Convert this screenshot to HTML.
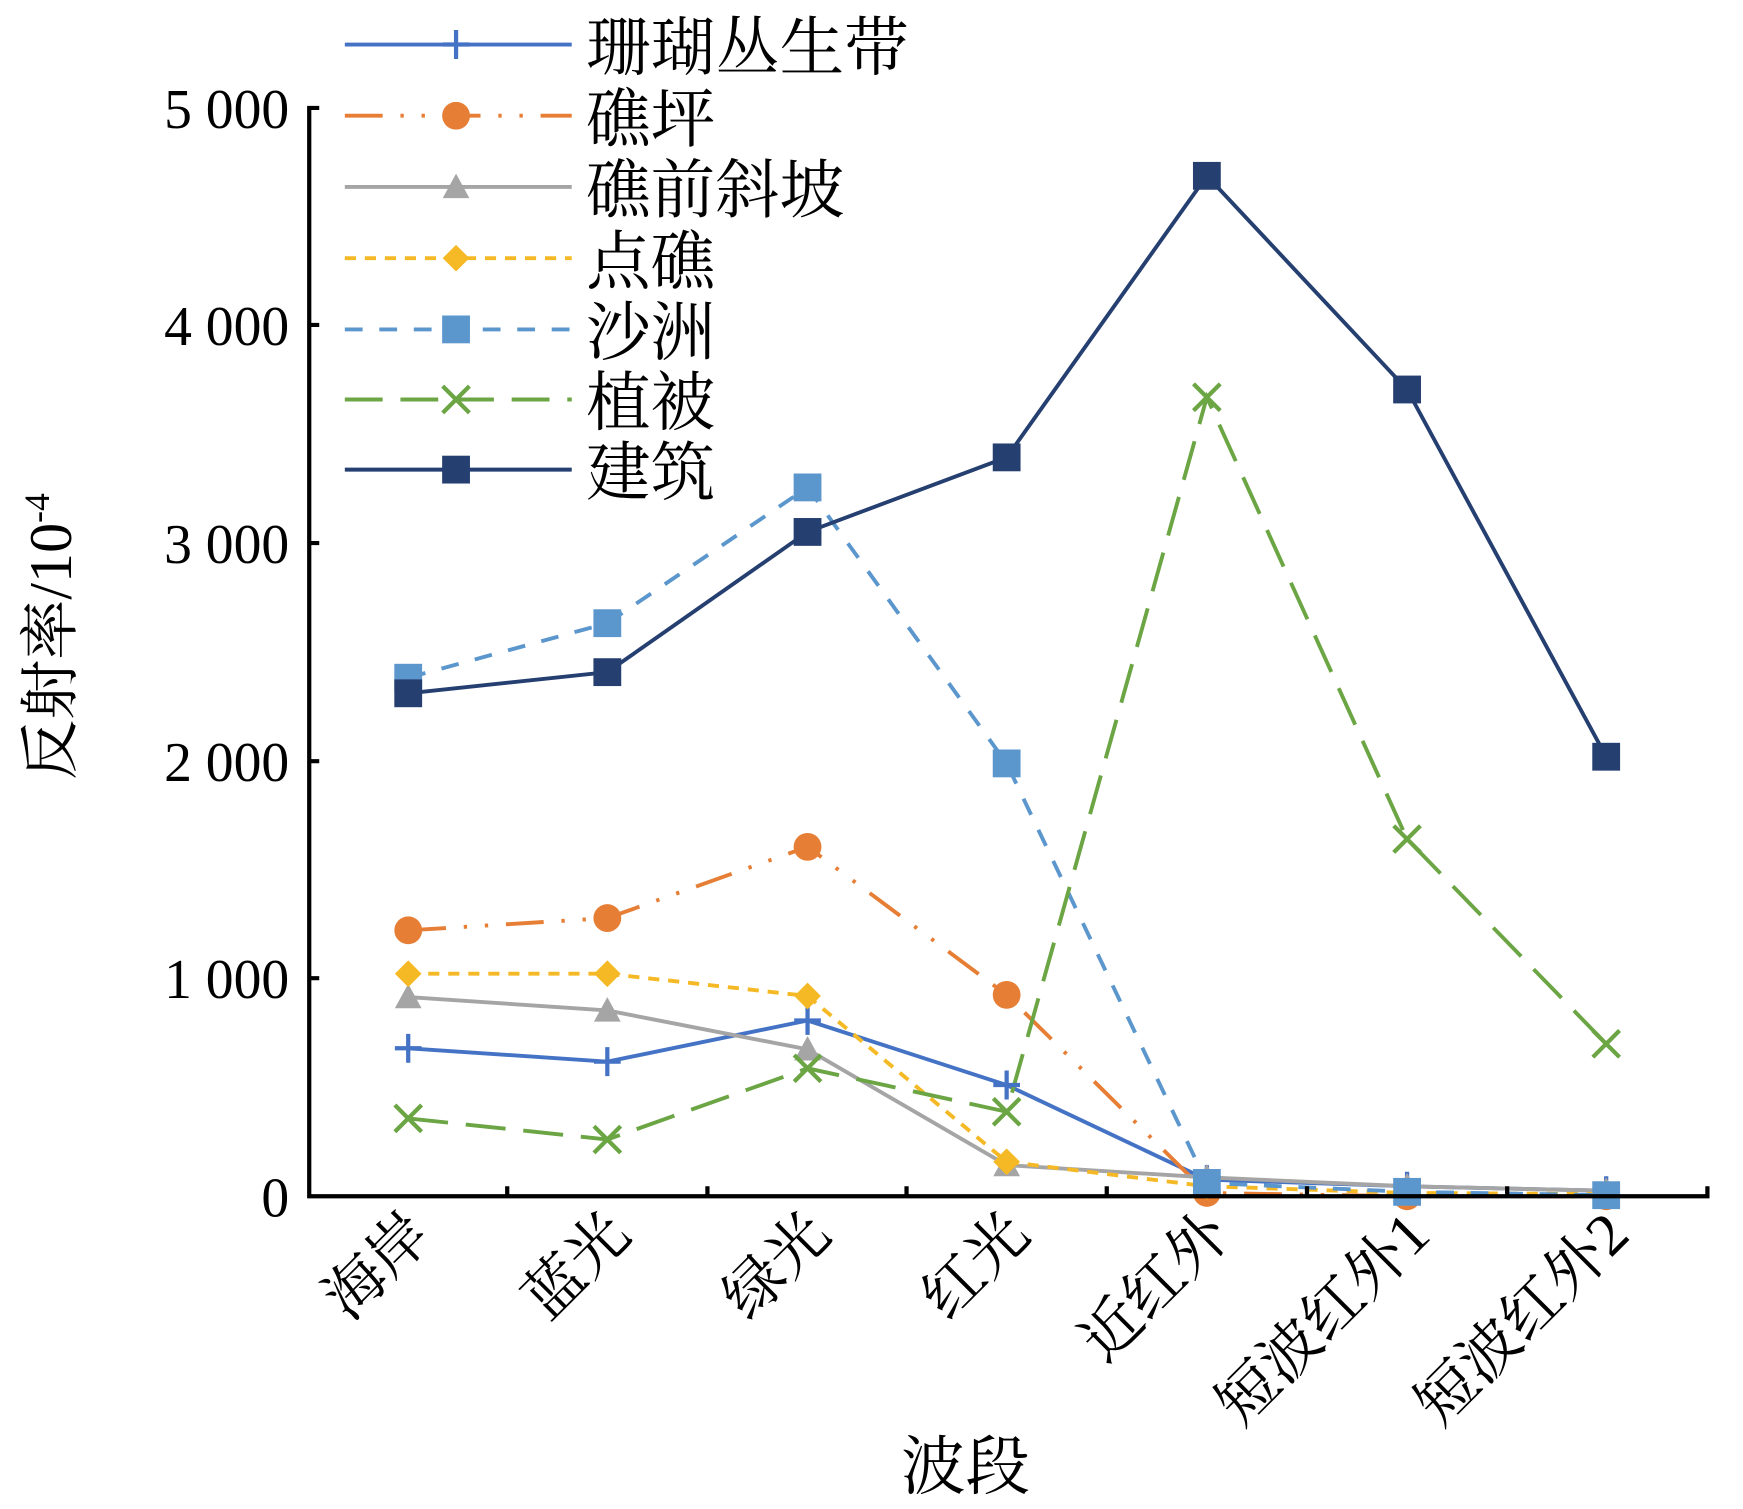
<!DOCTYPE html>
<html><head><meta charset="utf-8"><style>html,body{margin:0;padding:0;background:#fff}svg{display:block}</style></head>
<body>
<svg width="1743" height="1509" viewBox="0 0 1567 1356" preserveAspectRatio="none" xmlns="http://www.w3.org/2000/svg" font-family="'Liberation Serif','Noto Serif CJK SC','Noto Sans CJK SC',serif">
<defs>
<g id="plus"><path d="M-12 0H12M0 -13V13" stroke="#4472C4" stroke-width="3.8"/></g>
<g id="circ"><circle r="12.5" fill="#E67E35"/></g>
<g id="tri"><path d="M0 -12L12 10H-12Z" fill="#A5A5A5"/></g>
<g id="dia"><path d="M0 -12L12 0L0 12L-12 0Z" fill="#F5B925"/></g>
<g id="sq1"><rect x="-12.5" y="-12.5" width="25" height="25" fill="#5B96CC"/></g>
<g id="xx"><path d="M-12 -12L12 12M12 -12L-12 12" stroke="#6BA544" stroke-width="3.8"/></g>
<g id="sq2"><rect x="-12.5" y="-12.5" width="25" height="25" fill="#253F70"/></g>
</defs>
<g fill="none" stroke-width="3.5">
<polyline stroke="#4472C4" points="367,942 546,954 726,917 905,975 1085,1060 1265,1066 1444,1070"/>
<polyline stroke="#E67E35" stroke-dasharray="34 16 3 16 3 16" points="367,836 546,825 726,761 905,894 1085,1072 1265,1075 1444,1075"/>
<polyline stroke="#A5A5A5" points="367,896 546,908 726,943 905,1047 1085,1058 1265,1066 1444,1070"/>
<polyline stroke="#F5B925" stroke-dasharray="10 8" points="367,875 546,875 726,895 905,1044 1085,1066 1265,1072 1444,1073"/>
<polyline stroke="#5B96CC" stroke-dasharray="16 15" points="367,609 546,560 726,438 905,686 1085,1063 1265,1071 1444,1074"/>
<polyline stroke="#6BA544" stroke-dasharray="36 16" points="367,1005 546,1024 726,960 905,999 1085,357 1265,754 1444,938"/>
<polyline stroke="#253F70" points="367,623 546,604 726,478 905,411 1085,158 1265,350 1444,680"/>
</g>
<g>
<use href="#plus" x="367" y="942"/><use href="#plus" x="546" y="954"/><use href="#plus" x="726" y="917"/><use href="#plus" x="905" y="975"/><use href="#plus" x="1085" y="1060"/><use href="#plus" x="1265" y="1066"/><use href="#plus" x="1444" y="1070"/>
<use href="#circ" x="367" y="836"/><use href="#circ" x="546" y="825"/><use href="#circ" x="726" y="761"/><use href="#circ" x="905" y="894"/><use href="#circ" x="1085" y="1072"/><use href="#circ" x="1265" y="1075"/><use href="#circ" x="1444" y="1075"/>
<use href="#tri" x="367" y="896"/><use href="#tri" x="546" y="908"/><use href="#tri" x="726" y="943"/><use href="#tri" x="905" y="1047"/><use href="#tri" x="1085" y="1058"/><use href="#tri" x="1265" y="1066"/><use href="#tri" x="1444" y="1070"/>
<use href="#dia" x="367" y="875"/><use href="#dia" x="546" y="875"/><use href="#dia" x="726" y="895"/><use href="#dia" x="905" y="1044"/><use href="#dia" x="1085" y="1066"/><use href="#dia" x="1265" y="1072"/><use href="#dia" x="1444" y="1073"/>
<use href="#sq1" x="367" y="609"/><use href="#sq1" x="546" y="560"/><use href="#sq1" x="726" y="438"/><use href="#sq1" x="905" y="686"/><use href="#sq1" x="1085" y="1063"/><use href="#sq1" x="1265" y="1071"/><use href="#sq1" x="1444" y="1074"/>
<use href="#xx" x="367" y="1005"/><use href="#xx" x="546" y="1024"/><use href="#xx" x="726" y="960"/><use href="#xx" x="905" y="999"/><use href="#xx" x="1085" y="357"/><use href="#xx" x="1265" y="754"/><use href="#xx" x="1444" y="938"/>
<use href="#sq2" x="367" y="623"/><use href="#sq2" x="546" y="604"/><use href="#sq2" x="726" y="478"/><use href="#sq2" x="905" y="411"/><use href="#sq2" x="1085" y="158"/><use href="#sq2" x="1265" y="350"/><use href="#sq2" x="1444" y="680"/>
</g>
<g stroke="#000" stroke-width="3.8" fill="none">
<path d="M287 97H278V1075H1535V1066"/>
<path d="M278 292H287M278 488H287M278 684H287M278 879H287"/>
<path d="M456 1075V1066M636 1075V1066M815 1075V1066M995 1075V1066M1175 1075V1066M1355 1075V1066"/>
</g>
<g font-size="50" text-anchor="end" fill="#000">
<text x="260" y="115">5 000</text>
<text x="260" y="310">4 000</text>
<text x="260" y="506">3 000</text>
<text x="260" y="702">2 000</text>
<text x="260" y="897">1 000</text>
<text x="260" y="1093">0</text>
</g>
<g font-size="54" text-anchor="end" fill="#000">
<text transform="translate(390,1112) rotate(-45)">海岸</text>
<text transform="translate(569,1112) rotate(-45)">蓝光</text>
<text transform="translate(749,1112) rotate(-45)">绿光</text>
<text transform="translate(928,1112) rotate(-45)">红光</text>
<text transform="translate(1108,1112) rotate(-45)">近红外</text>
<text transform="translate(1288,1112) rotate(-45)">短波红外1</text>
<text transform="translate(1467,1112) rotate(-45)">短波红外2</text>
</g>
<text x="868" y="1338" font-size="58" text-anchor="middle">波段</text>
<text transform="translate(64,572) rotate(-90)" font-size="54" text-anchor="middle">反射率/10<tspan font-size="32" dy="-20">-4</tspan></text>
<g fill="none" stroke-width="3.5">
<path d="M310 40H514" stroke="#4472C4"/>
<path d="M310 104H514" stroke="#E67E35" stroke-dasharray="34 16 3 16 3 16"/>
<path d="M310 168H514" stroke="#A5A5A5"/>
<path d="M310 232H514" stroke="#F5B925" stroke-dasharray="10 8"/>
<path d="M310 296H514" stroke="#5B96CC" stroke-dasharray="16 15"/>
<path d="M310 359H514" stroke="#6BA544" stroke-dasharray="34 16"/>
<path d="M310 422H514" stroke="#253F70"/>
</g>
<use href="#plus" x="410" y="40"/><use href="#circ" x="410" y="104"/><use href="#tri" x="410" y="168"/><use href="#dia" x="410" y="232"/><use href="#sq1" x="410" y="296"/><use href="#xx" x="410" y="359"/><use href="#sq2" x="410" y="422"/>
<g font-size="58" fill="#000">
<text x="527" y="63">珊瑚丛生带</text>
<text x="527" y="127">礁坪</text>
<text x="527" y="191">礁前斜坡</text>
<text x="527" y="255">点礁</text>
<text x="527" y="319">沙洲</text>
<text x="527" y="382">植被</text>
<text x="527" y="445">建筑</text>
</g>
</svg>
</body></html>
